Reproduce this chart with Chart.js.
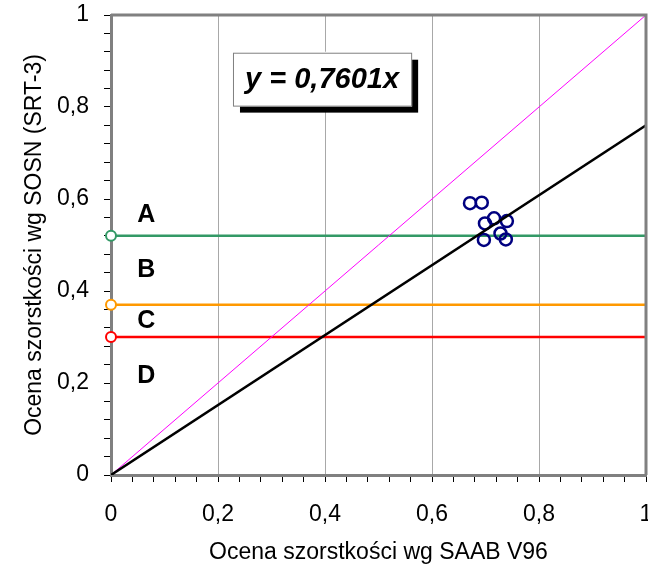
<!DOCTYPE html>
<html>
<head>
<meta charset="utf-8">
<script src="https://cdn.jsdelivr.net/npm/chart.js@4/dist/chart.umd.min.js"></script>
<style>
  body { margin: 0; background: #fff; }
  #wrap { width: 648px; height: 570px; }
</style>
</head>
<body>
<div id="wrap"><canvas id="chart" width="648" height="570"></canvas></div>
<script>
// pomiary: SAAB V96 (x) vs SOSN SRT-3 (y)
const saabValues = [0.671, 0.693, 0.699, 0.716, 0.740, 0.697, 0.728, 0.738];
const sosnValues = [0.591, 0.592, 0.547, 0.558, 0.552, 0.511, 0.525, 0.512];

// granice klas A/B, B/C, C/D
const classLimits = [0.52, 0.37, 0.30];
const classNames = ['A', 'B', 'C', 'D'];

const regressionSlope = 0.7601;
const axisMin = 0;
const axisMax = 1;
const tickStep = 0.04;   // co piąta kreska opisana (0,2)

const FONT = "Arial, 'Liberation Sans', sans-serif";
const limitColors = ['#339966', '#FF9900', '#FF0000'];

function fmt(v) {
    return (Math.round(v * 10) / 10).toString().replace('.', ',');
}

const limitDatasets = classLimits.map((v, i) => ({
    type: 'line',
    data: [{ x: axisMin, y: v }, { x: axisMax, y: v }],
    borderColor: limitColors[i],
    borderWidth: 2.5,
    pointRadius: [5, 0],
    pointBorderWidth: 2,
    pointBorderColor: limitColors[i],
    pointBackgroundColor: '#fff',
    clip: false,
    order: 3
}));

// opisy klas, okienko z równaniem i górna/prawa ramka
const decorPlugin = {
    id: 'decor',
    afterDatasetsDraw(chart) {
        const { ctx, scales: { x, y } } = chart;
        ctx.save();
        ctx.fillStyle = '#000';
        ctx.font = 'bold 25px ' + FONT;
        ctx.textAlign = 'center';
        ctx.textBaseline = 'middle';
        const labelY = [
            classLimits[0] + 0.045,
            (classLimits[0] + classLimits[1]) / 2,
            (classLimits[1] + classLimits[2]) / 2,
            classLimits[2] - 0.085
        ];
        classNames.forEach((n, i) => {
            ctx.fillText(n, x.getPixelForValue(0.066), y.getPixelForValue(labelY[i]));
        });

        // ramka z równaniem
        const l = x.getPixelForValue(0.228), r = x.getPixelForValue(0.561);
        const t = y.getPixelForValue(0.918), b = y.getPixelForValue(0.803);
        ctx.fillStyle = '#000';
        ctx.fillRect(l + 7, t + 7, r - l, b - t);
        ctx.fillStyle = '#fff';
        ctx.fillRect(l - 1, t - 1, r - l + 2, b - t + 2);
        ctx.strokeStyle = '#808080';
        ctx.lineWidth = 1;
        ctx.strokeRect(l + 0.5, t + 0.5, r - l, b - t);
        ctx.fillStyle = '#000';
        ctx.font = 'italic bold 29px ' + FONT;
        ctx.fillText('y = ' + String(regressionSlope).replace('.', ',') + 'x', (l + r) / 2, (t + b) / 2 + 1);

        const a = chart.chartArea;
        ctx.strokeStyle = '#808080';
        ctx.lineWidth = 3;
        ctx.beginPath();
        ctx.moveTo(a.left, a.top);
        ctx.lineTo(a.right, a.top);
        ctx.lineTo(a.right, a.bottom);
        ctx.stroke();
        ctx.restore();
    }
};

function fixBox(w, h) {
    return function (scale) {
        if (w) scale.width = w;
        if (h) scale.height = h;
        scale.paddingLeft = 0;
        scale.paddingRight = 0;
        scale.paddingTop = 0;
        scale.paddingBottom = 0;
    };
}

new Chart(document.getElementById('chart').getContext('2d'), {
    type: 'scatter',
    data: {
        datasets: [
            {
                type: 'line',
                data: [{ x: axisMin, y: 0 }, { x: axisMax, y: regressionSlope * axisMax }],
                borderColor: '#000',
                borderWidth: 2.5,
                pointRadius: 0,
                order: 0
            },
            {
                type: 'line',
                data: [{ x: axisMin, y: axisMin }, { x: axisMax, y: axisMax }],
                borderColor: '#FF00FF',
                borderWidth: 1,
                pointRadius: 0,
                order: 1
            },
            {
                data: saabValues.map((v, i) => ({ x: v, y: sosnValues[i] })),
                pointRadius: 6,
                pointBorderWidth: 2.5,
                pointBorderColor: '#000080',
                pointBackgroundColor: 'rgba(0,0,0,0)',
                order: 2
            },
            ...limitDatasets
        ]
    },
    options: {
        responsive: false,
        animation: false,
        layout: { autoPadding: false, padding: { left: 0, top: 15, right: 2, bottom: 0 } },
        plugins: { legend: { display: false }, tooltip: { enabled: false } },
        scales: {
            x: {
                type: 'linear',
                min: axisMin,
                max: axisMax,
                afterFit: fixBox(0, 95),
                border: { color: '#808080', width: 3 },
                grid: {
                    color: c => (c.index % 5 === 0 && c.index > 0 && c.index < 25) ? '#a8a8a8' : 'rgba(0,0,0,0)',
                    lineWidth: 1,
                    tickColor: '#000',
                    tickLength: 7
                },
                ticks: {
                    stepSize: tickStep,
                    autoSkip: false,
                    maxRotation: 0,
                    padding: 19,
                    color: '#000',
                    font: { family: FONT, size: 23 },
                    callback: (v, i) => i % 5 === 0 ? fmt(v) : ''
                },
                title: {
                    display: true,
                    text: 'Ocena szorstkości wg SAAB V96',
                    color: '#000',
                    font: { family: FONT, size: 23 },
                    padding: { top: 0, bottom: 4 }
                }
            },
            y: {
                type: 'linear',
                min: axisMin,
                max: axisMax,
                afterFit: fixBox(111, 0),
                border: { color: '#808080', width: 3 },
                grid: {
                    color: 'rgba(0,0,0,0)',
                    tickColor: '#000',
                    tickLength: 7
                },
                ticks: {
                    stepSize: tickStep,
                    autoSkip: false,
                    padding: 15,
                    color: '#000',
                    font: { family: FONT, size: 23 },
                    callback: (v, i) => i % 5 === 0 ? fmt(v) : ''
                },
                title: {
                    display: true,
                    text: 'Ocena szorstkości wg SOSN (SRT-3)',
                    color: '#000',
                    font: { family: FONT, size: 23 },
                    padding: { top: 21, bottom: 0 }
                }
            }
        }
    },
    plugins: [decorPlugin]
});
</script>
</body>
</html>
